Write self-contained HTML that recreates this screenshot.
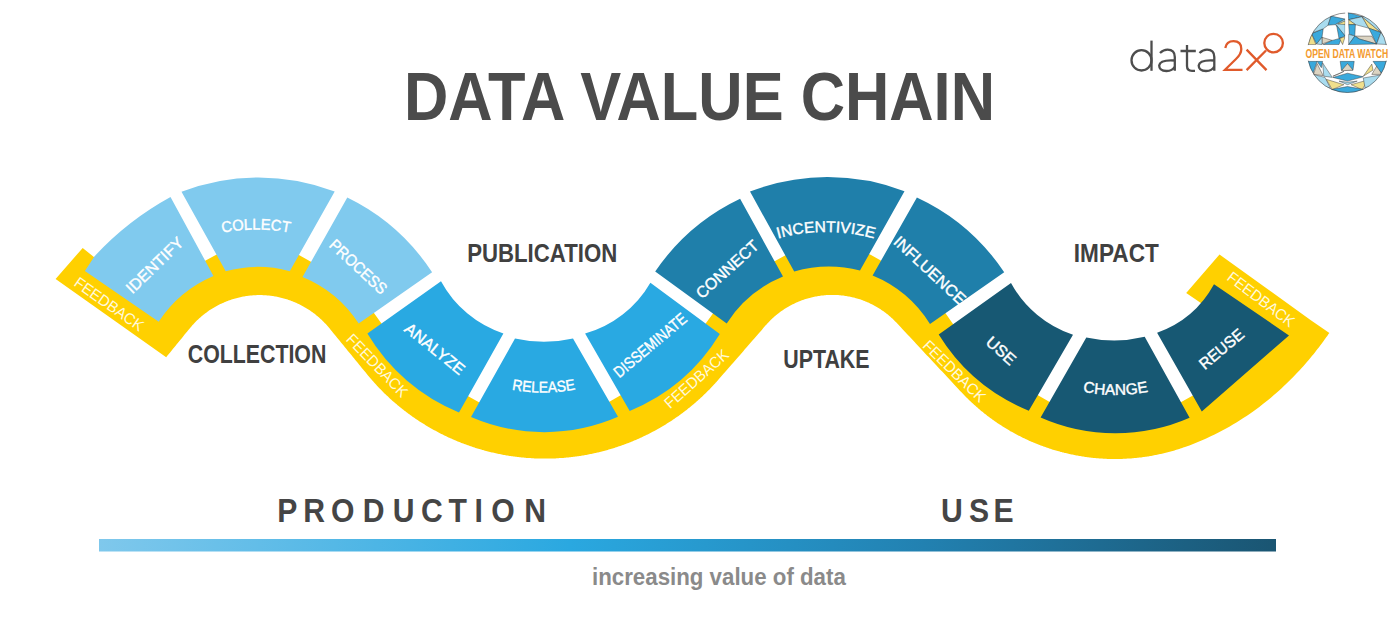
<!DOCTYPE html>
<html><head><meta charset="utf-8"><style>
html,body{margin:0;padding:0;background:#fff;width:1400px;height:642px;overflow:hidden}
svg{display:block}
text{font-family:"Liberation Sans",sans-serif}
.lab text{fill:#fff;stroke:#fff;stroke-width:0.4px}
.lab text.fb{fill:#fff9dc;stroke:none}
</style></head><body>
<svg width="1400" height="642" viewBox="0 0 1400 642">
<defs>
<linearGradient id="bar" x1="0" x2="1" y1="0" y2="0">
<stop offset="0" stop-color="#7fc8ec"/><stop offset="0.4" stop-color="#2aa8e0"/><stop offset="0.7" stop-color="#2281b1"/><stop offset="1" stop-color="#1a5572"/>
</linearGradient>
<clipPath id="odw"><circle cx="1347.3" cy="52.7" r="40"/></clipPath>
<path id="pCollect" d="M140.3,271.7 A180,180 0 0 1 371.7,271.7" fill="none"/>
<path id="pIncent" d="M698.7,284.7 A180,180 0 0 1 953.3,284.7" fill="none"/>
<path id="pRelease" d="M413.5,331.9 A170,170 0 0 0 673.9,331.9" fill="none"/>
<path id="pChange" d="M985.3,334.3 A170,170 0 0 0 1245.7,334.3" fill="none"/>
</defs>
<rect width="1400" height="642" fill="#fff"/>
<text x="404" y="120" font-size="68" font-weight="bold" fill="#4b4b4b" textLength="591" lengthAdjust="spacingAndGlyphs">DATA VALUE CHAIN</text>
<path d="M82.7,247.9 L55.6,279.0 L166.2,357.2 L167.5,355.6 L168.8,354.0 L170.1,352.4 L171.5,350.8 L172.8,349.1 L174.1,347.5 L175.4,345.9 L176.7,344.3 L178.0,342.7 L179.4,341.1 L180.7,339.5 L182.0,337.9 L183.3,336.3 L184.6,334.6 L185.9,333.0 L187.2,331.4 L188.6,329.8 L189.9,328.2 L190.5,327.4 L191.2,326.7 L191.8,325.9 L192.5,325.1 L193.2,324.4 L193.8,323.7 L194.5,322.9 L195.2,322.2 L195.9,321.5 L196.6,320.8 L197.4,320.1 L198.1,319.4 L198.8,318.7 L199.6,318.1 L200.3,317.4 L201.1,316.7 L201.8,316.1 L202.6,315.4 L203.4,314.8 L204.2,314.2 L205.0,313.6 L205.8,313.0 L206.6,312.4 L207.4,311.8 L208.2,311.2 L209.0,310.6 L209.9,310.1 L210.7,309.5 L211.6,309.0 L212.4,308.5 L213.3,307.9 L214.1,307.4 L215.0,306.9 L215.9,306.4 L216.7,306.0 L217.6,305.5 L218.5,305.0 L219.4,304.6 L220.3,304.1 L221.2,303.7 L222.1,303.3 L223.0,302.9 L224.0,302.5 L224.9,302.1 L225.8,301.7 L226.7,301.3 L227.7,301.0 L228.6,300.6 L229.6,300.3 L230.5,299.9 L231.5,299.6 L232.4,299.3 L233.4,299.0 L234.3,298.7 L235.3,298.4 L236.3,298.2 L237.2,297.9 L238.2,297.7 L239.2,297.4 L240.2,297.2 L241.1,297.0 L242.1,296.8 L243.1,296.6 L244.1,296.4 L245.1,296.3 L246.1,296.1 L247.1,296.0 L248.1,295.8 L249.0,295.7 L250.0,295.6 L251.0,295.5 L252.0,295.4 L253.0,295.3 L254.0,295.3 L255.0,295.2 L256.0,295.2 L257.0,295.1 L258.1,295.1 L259.1,295.1 L260.1,295.1 L261.1,295.1 L262.1,295.1 L263.1,295.2 L264.1,295.2 L265.1,295.3 L266.1,295.3 L267.1,295.4 L268.1,295.5 L269.1,295.6 L270.1,295.7 L271.1,295.8 L272.0,296.0 L273.0,296.1 L274.0,296.3 L275.0,296.4 L276.0,296.6 L277.0,296.8 L278.0,297.0 L279.0,297.2 L279.9,297.4 L280.9,297.7 L281.9,297.9 L282.9,298.2 L283.8,298.4 L284.8,298.7 L285.7,299.0 L286.7,299.3 L287.7,299.6 L288.6,299.9 L289.6,300.2 L290.5,300.6 L291.4,300.9 L292.4,301.3 L293.3,301.7 L294.2,302.0 L295.2,302.4 L296.1,302.8 L297.0,303.2 L297.9,303.7 L298.8,304.1 L299.7,304.5 L300.6,305.0 L301.5,305.4 L302.4,305.9 L303.3,306.4 L304.1,306.9 L305.0,307.4 L305.9,307.9 L306.7,308.4 L307.6,308.9 L308.4,309.5 L309.3,310.0 L310.1,310.6 L310.9,311.2 L311.7,311.7 L312.5,312.3 L313.4,312.9 L314.2,313.5 L315.0,314.1 L315.7,314.8 L316.5,315.4 L317.3,316.0 L318.1,316.7 L318.8,317.3 L319.6,318.0 L320.3,318.7 L321.0,319.3 L321.8,320.0 L322.5,320.7 L323.2,321.4 L323.9,322.1 L324.6,322.9 L325.3,323.6 L326.0,324.3 L326.7,325.1 L327.3,325.8 L328.0,326.6 L328.6,327.3 L329.3,328.1 L330.6,329.7 L331.9,331.3 L333.2,332.9 L334.5,334.5 L335.8,336.1 L337.1,337.7 L338.4,339.2 L339.7,340.8 L341.0,342.4 L342.3,344.0 L343.6,345.6 L344.9,347.2 L346.2,348.8 L347.5,350.4 L348.8,352.0 L350.1,353.6 L351.4,355.1 L352.7,356.7 L354.0,358.3 L355.3,359.9 L356.6,361.5 L357.9,363.1 L359.2,364.7 L360.5,366.3 L361.8,367.9 L363.1,369.4 L364.4,371.0 L365.7,372.6 L367.0,374.2 L367.6,375.0 L368.2,375.8 L368.9,376.5 L369.5,377.3 L370.2,378.0 L370.8,378.8 L371.5,379.6 L372.1,380.3 L372.8,381.1 L373.5,381.8 L374.1,382.6 L374.8,383.3 L375.5,384.0 L376.2,384.8 L376.8,385.5 L377.5,386.2 L378.2,387.0 L378.9,387.7 L379.6,388.4 L380.3,389.1 L381.0,389.8 L381.7,390.6 L382.4,391.3 L383.1,392.0 L383.8,392.7 L384.5,393.4 L385.2,394.1 L386.0,394.8 L386.7,395.5 L387.4,396.1 L388.2,396.8 L388.9,397.5 L389.6,398.2 L390.4,398.9 L391.1,399.5 L391.8,400.2 L392.6,400.9 L393.3,401.5 L394.1,402.2 L394.9,402.8 L395.6,403.5 L396.4,404.1 L397.1,404.8 L397.9,405.4 L398.7,406.1 L399.5,406.7 L400.2,407.3 L401.0,407.9 L401.8,408.6 L402.6,409.2 L403.4,409.8 L404.1,410.4 L404.9,411.0 L405.7,411.6 L406.5,412.2 L407.3,412.8 L408.1,413.4 L408.9,414.0 L409.7,414.6 L410.6,415.2 L411.4,415.8 L412.2,416.4 L413.0,417.0 L413.8,417.5 L414.6,418.1 L415.5,418.7 L416.3,419.2 L417.1,419.8 L418.0,420.3 L418.8,420.9 L419.6,421.4 L420.5,422.0 L421.3,422.5 L422.2,423.1 L423.0,423.6 L423.9,424.1 L424.7,424.6 L425.6,425.2 L426.4,425.7 L427.3,426.2 L428.1,426.7 L429.0,427.2 L429.9,427.7 L430.7,428.2 L431.6,428.7 L432.5,429.2 L433.3,429.7 L434.2,430.2 L435.1,430.6 L436.0,431.1 L436.9,431.6 L437.7,432.1 L438.6,432.5 L439.5,433.0 L440.4,433.4 L441.3,433.9 L442.2,434.3 L443.1,434.8 L444.0,435.2 L444.9,435.7 L445.8,436.1 L446.7,436.5 L447.6,437.0 L448.5,437.4 L449.4,437.8 L450.3,438.2 L451.2,438.6 L452.2,439.0 L453.1,439.4 L454.0,439.8 L454.9,440.2 L455.8,440.6 L456.7,441.0 L457.7,441.4 L458.6,441.8 L459.5,442.1 L460.5,442.5 L461.4,442.9 L462.3,443.2 L463.3,443.6 L464.2,443.9 L465.1,444.3 L466.1,444.6 L467.0,445.0 L467.9,445.3 L468.9,445.6 L469.8,446.0 L470.8,446.3 L471.7,446.6 L472.7,446.9 L473.6,447.2 L474.6,447.6 L475.5,447.9 L476.5,448.2 L477.4,448.5 L478.4,448.7 L479.4,449.0 L480.3,449.3 L481.3,449.6 L482.2,449.9 L483.2,450.1 L484.2,450.4 L485.1,450.7 L486.1,450.9 L487.1,451.2 L488.0,451.4 L489.0,451.7 L490.0,451.9 L490.9,452.2 L491.9,452.4 L492.9,452.6 L493.9,452.8 L494.8,453.1 L495.8,453.3 L496.8,453.5 L497.8,453.7 L498.8,453.9 L499.7,454.1 L500.7,454.3 L501.7,454.5 L502.7,454.7 L503.7,454.9 L504.7,455.0 L505.6,455.2 L506.6,455.4 L507.6,455.5 L508.6,455.7 L509.6,455.9 L510.6,456.0 L511.6,456.2 L512.6,456.3 L513.5,456.4 L514.5,456.6 L515.5,456.7 L516.5,456.8 L517.5,457.0 L518.5,457.1 L519.5,457.2 L520.5,457.3 L521.5,457.4 L522.5,457.5 L523.5,457.6 L524.5,457.7 L525.5,457.8 L526.5,457.9 L527.5,457.9 L528.5,458.0 L529.5,458.1 L530.5,458.1 L531.5,458.2 L532.5,458.3 L533.5,458.3 L534.5,458.4 L535.5,458.4 L536.5,458.4 L537.5,458.5 L538.5,458.5 L539.5,458.5 L540.5,458.6 L541.5,458.6 L542.5,458.6 L543.5,458.6 L544.5,458.6 L545.5,458.6 L546.5,458.6 L547.5,458.6 L548.5,458.6 L549.5,458.6 L550.5,458.5 L551.5,458.5 L552.5,458.5 L553.5,458.4 L554.5,458.4 L555.5,458.4 L556.5,458.3 L557.5,458.3 L558.5,458.2 L559.4,458.1 L560.4,458.1 L561.4,458.0 L562.4,457.9 L563.4,457.9 L564.4,457.8 L565.4,457.7 L566.4,457.6 L567.4,457.5 L568.4,457.4 L569.4,457.3 L570.4,457.2 L571.4,457.1 L572.4,457.0 L573.4,456.8 L574.4,456.7 L575.4,456.6 L576.4,456.5 L577.4,456.3 L578.3,456.2 L579.3,456.0 L580.3,455.9 L581.3,455.7 L582.3,455.6 L583.3,455.4 L584.3,455.2 L585.3,455.0 L586.2,454.9 L587.2,454.7 L588.2,454.5 L589.2,454.3 L590.2,454.1 L591.2,453.9 L592.1,453.7 L593.1,453.5 L594.1,453.3 L595.1,453.1 L596.0,452.9 L597.0,452.6 L598.0,452.4 L599.0,452.2 L599.9,451.9 L600.9,451.7 L601.9,451.5 L602.8,451.2 L603.8,451.0 L604.8,450.7 L605.7,450.4 L606.7,450.2 L607.7,449.9 L608.6,449.6 L609.6,449.3 L610.6,449.1 L611.5,448.8 L612.5,448.5 L613.4,448.2 L614.4,447.9 L615.3,447.6 L616.3,447.3 L617.2,447.0 L618.2,446.6 L619.1,446.3 L620.1,446.0 L621.0,445.7 L622.0,445.3 L622.9,445.0 L623.8,444.7 L624.8,444.3 L625.7,444.0 L626.7,443.6 L627.6,443.3 L628.5,442.9 L629.5,442.5 L630.4,442.2 L631.3,441.8 L632.2,441.4 L633.2,441.0 L634.1,440.6 L635.0,440.3 L635.9,439.9 L636.8,439.5 L637.8,439.1 L638.7,438.7 L639.6,438.2 L640.5,437.8 L641.4,437.4 L642.3,437.0 L643.2,436.6 L644.1,436.1 L645.0,435.7 L645.9,435.3 L646.8,434.8 L647.7,434.4 L648.6,433.9 L649.5,433.5 L650.4,433.0 L651.3,432.6 L652.2,432.1 L653.1,431.6 L653.9,431.2 L654.8,430.7 L655.7,430.2 L656.6,429.7 L657.4,429.2 L658.3,428.7 L659.2,428.3 L660.1,427.8 L660.9,427.3 L661.8,426.7 L662.6,426.2 L663.5,425.7 L664.4,425.2 L665.2,424.7 L666.1,424.2 L666.9,423.6 L667.8,423.1 L668.6,422.6 L669.4,422.0 L670.3,421.5 L671.1,420.9 L672.0,420.4 L672.8,419.8 L673.6,419.3 L674.5,418.7 L675.3,418.1 L676.1,417.6 L676.9,417.0 L677.7,416.4 L678.6,415.9 L679.4,415.3 L680.2,414.7 L681.0,414.1 L681.8,413.5 L682.6,412.9 L683.4,412.3 L684.2,411.7 L685.0,411.1 L685.8,410.5 L686.6,409.9 L687.4,409.3 L688.1,408.6 L688.9,408.0 L689.7,407.4 L690.5,406.7 L691.3,406.1 L692.0,405.5 L692.8,404.8 L693.6,404.2 L694.3,403.5 L695.1,402.9 L695.8,402.2 L696.6,401.6 L697.3,400.9 L698.1,400.3 L698.8,399.6 L699.6,398.9 L700.3,398.2 L701.0,397.6 L701.8,396.9 L702.5,396.2 L703.2,395.5 L704.0,394.8 L704.7,394.1 L705.4,393.4 L706.1,392.7 L706.8,392.0 L707.5,391.3 L708.2,390.6 L709.0,389.9 L709.7,389.2 L710.3,388.5 L711.0,387.8 L711.7,387.0 L712.4,386.3 L713.1,385.6 L713.8,384.8 L714.5,384.1 L715.1,383.4 L715.8,382.6 L716.5,381.9 L717.1,381.1 L717.8,380.4 L718.5,379.6 L719.8,378.1 L721.1,376.6 L722.4,375.1 L723.7,373.6 L725.1,372.1 L726.4,370.5 L727.7,369.0 L729.0,367.5 L730.3,366.0 L731.6,364.5 L733.0,363.0 L734.3,361.5 L735.6,359.9 L736.9,358.4 L738.2,356.9 L739.6,355.4 L740.9,353.9 L742.2,352.4 L743.5,350.9 L744.8,349.3 L746.2,347.8 L747.5,346.3 L748.8,344.8 L750.1,343.3 L751.4,341.8 L752.7,340.3 L754.1,338.7 L755.4,337.2 L756.7,335.7 L758.0,334.2 L759.3,332.7 L760.7,331.2 L762.0,329.7 L763.3,328.1 L764.6,326.6 L765.9,325.1 L766.6,324.4 L767.3,323.6 L767.9,322.9 L768.6,322.2 L769.3,321.4 L770.0,320.7 L770.7,320.0 L771.5,319.3 L772.2,318.6 L772.9,317.9 L773.7,317.3 L774.4,316.6 L775.2,316.0 L775.9,315.3 L776.7,314.7 L777.5,314.0 L778.3,313.4 L779.1,312.8 L779.9,312.2 L780.7,311.6 L781.5,311.0 L782.3,310.5 L783.2,309.9 L784.0,309.3 L784.8,308.8 L785.7,308.3 L786.5,307.7 L787.4,307.2 L788.3,306.7 L789.1,306.2 L790.0,305.7 L790.9,305.3 L791.8,304.8 L792.7,304.3 L793.6,303.9 L794.5,303.4 L795.4,303.0 L796.3,302.6 L797.2,302.2 L798.1,301.8 L799.0,301.4 L800.0,301.1 L800.9,300.7 L801.8,300.3 L802.8,300.0 L803.7,299.7 L804.7,299.3 L805.6,299.0 L806.6,298.7 L807.6,298.5 L808.5,298.2 L809.5,297.9 L810.5,297.7 L811.4,297.4 L812.4,297.2 L813.4,297.0 L814.4,296.7 L815.3,296.5 L816.3,296.4 L817.3,296.2 L818.3,296.0 L819.3,295.9 L820.3,295.7 L821.3,295.6 L822.3,295.5 L823.3,295.4 L824.3,295.3 L825.3,295.2 L826.3,295.1 L827.3,295.0 L828.3,295.0 L829.3,295.0 L830.3,294.9 L831.3,294.9 L832.3,294.9 L833.3,294.9 L834.3,294.9 L835.3,295.0 L836.3,295.0 L837.3,295.0 L838.3,295.1 L839.3,295.2 L840.3,295.3 L841.3,295.4 L842.3,295.5 L843.3,295.6 L844.3,295.7 L845.2,295.9 L846.2,296.0 L847.2,296.2 L848.2,296.4 L849.2,296.5 L850.2,296.7 L851.2,296.9 L852.1,297.2 L853.1,297.4 L854.1,297.6 L855.1,297.9 L856.0,298.2 L857.0,298.4 L857.9,298.7 L858.9,299.0 L859.9,299.3 L860.8,299.6 L861.8,300.0 L862.7,300.3 L863.6,300.7 L864.6,301.0 L865.5,301.4 L866.4,301.8 L867.3,302.2 L868.3,302.6 L869.2,303.0 L870.1,303.4 L871.0,303.9 L871.9,304.3 L872.8,304.8 L873.7,305.2 L874.5,305.7 L875.4,306.2 L876.3,306.7 L877.2,307.2 L878.0,307.7 L878.9,308.2 L879.7,308.8 L880.6,309.3 L881.4,309.9 L882.2,310.4 L883.0,311.0 L883.9,311.6 L884.7,312.2 L885.5,312.8 L886.3,313.4 L887.1,314.0 L887.8,314.6 L888.6,315.3 L889.4,315.9 L890.1,316.6 L890.9,317.2 L891.6,317.9 L892.4,318.6 L893.1,319.3 L893.8,320.0 L894.5,320.7 L895.2,321.4 L895.9,322.1 L896.6,322.8 L898.0,324.3 L899.4,325.8 L900.8,327.3 L902.1,328.7 L903.5,330.2 L904.9,331.7 L906.3,333.2 L907.7,334.7 L909.0,336.1 L910.4,337.6 L911.8,339.1 L913.2,340.6 L914.6,342.1 L915.9,343.5 L917.3,345.0 L918.7,346.5 L920.1,348.0 L921.5,349.5 L922.9,350.9 L924.2,352.4 L925.6,353.9 L927.0,355.4 L928.4,356.8 L929.8,358.3 L931.1,359.8 L932.5,361.3 L933.9,362.8 L935.3,364.2 L936.7,365.7 L938.0,367.2 L939.4,368.7 L940.8,370.2 L942.2,371.6 L943.6,373.1 L945.0,374.6 L946.3,376.1 L947.7,377.6 L949.1,379.0 L950.5,380.5 L951.9,382.0 L953.2,383.5 L954.6,384.9 L956.0,386.4 L957.4,387.9 L958.8,389.4 L960.1,390.9 L961.5,392.3 L962.2,393.1 L962.9,393.8 L963.6,394.5 L964.3,395.2 L965.0,396.0 L965.7,396.7 L966.4,397.4 L967.1,398.1 L967.8,398.8 L968.5,399.5 L969.3,400.2 L970.0,400.9 L970.7,401.6 L971.4,402.3 L972.2,402.9 L972.9,403.6 L973.6,404.3 L974.4,405.0 L975.1,405.6 L975.9,406.3 L976.6,407.0 L977.4,407.6 L978.1,408.3 L978.9,408.9 L979.7,409.6 L980.4,410.2 L981.2,410.9 L982.0,411.5 L982.8,412.1 L983.5,412.8 L984.3,413.4 L985.1,414.0 L985.9,414.6 L986.7,415.2 L987.5,415.9 L988.3,416.5 L989.1,417.1 L989.9,417.7 L990.7,418.3 L991.5,418.8 L992.3,419.4 L993.1,420.0 L993.9,420.6 L994.8,421.2 L995.6,421.7 L996.4,422.3 L997.2,422.9 L998.1,423.4 L998.9,424.0 L999.7,424.5 L1000.6,425.1 L1001.4,425.6 L1002.3,426.2 L1003.1,426.7 L1004.0,427.2 L1004.8,427.8 L1005.7,428.3 L1006.5,428.8 L1007.4,429.3 L1008.2,429.8 L1009.1,430.3 L1010.0,430.9 L1010.8,431.4 L1011.7,431.8 L1012.6,432.3 L1013.5,432.8 L1014.3,433.3 L1015.2,433.8 L1016.1,434.3 L1017.0,434.7 L1017.9,435.2 L1018.8,435.7 L1019.7,436.1 L1020.6,436.6 L1021.5,437.0 L1022.3,437.5 L1023.2,437.9 L1024.2,438.3 L1025.1,438.8 L1026.0,439.2 L1026.9,439.6 L1027.8,440.0 L1028.7,440.4 L1029.6,440.9 L1030.5,441.3 L1031.4,441.7 L1032.4,442.1 L1033.3,442.4 L1034.2,442.8 L1035.1,443.2 L1036.1,443.6 L1037.0,444.0 L1037.9,444.3 L1038.9,444.7 L1039.8,445.1 L1040.7,445.4 L1041.7,445.8 L1042.6,446.1 L1043.5,446.5 L1044.5,446.8 L1045.4,447.1 L1046.4,447.5 L1047.3,447.8 L1048.3,448.1 L1049.2,448.4 L1050.2,448.7 L1051.1,449.1 L1052.1,449.4 L1053.0,449.7 L1054.0,449.9 L1055.0,450.2 L1055.9,450.5 L1056.9,450.8 L1057.8,451.1 L1058.8,451.3 L1059.8,451.6 L1060.7,451.9 L1061.7,452.1 L1062.7,452.4 L1063.7,452.6 L1064.6,452.9 L1065.6,453.1 L1066.6,453.3 L1067.6,453.6 L1068.5,453.8 L1069.5,454.0 L1070.5,454.2 L1071.5,454.4 L1072.4,454.6 L1073.4,454.8 L1074.4,455.0 L1075.4,455.2 L1076.4,455.4 L1077.4,455.6 L1078.3,455.8 L1079.3,455.9 L1080.3,456.1 L1081.3,456.3 L1082.3,456.4 L1083.3,456.6 L1084.3,456.7 L1085.3,456.9 L1086.3,457.0 L1087.3,457.2 L1088.2,457.3 L1089.2,457.4 L1090.2,457.5 L1091.2,457.7 L1092.2,457.8 L1093.2,457.9 L1094.2,458.0 L1095.2,458.1 L1096.2,458.2 L1097.2,458.2 L1098.2,458.3 L1099.2,458.4 L1100.2,458.5 L1101.2,458.5 L1102.2,458.6 L1103.2,458.7 L1104.2,458.7 L1105.2,458.8 L1106.2,458.8 L1107.2,458.9 L1108.2,458.9 L1109.2,458.9 L1110.2,458.9 L1111.2,459.0 L1112.2,459.0 L1113.2,459.0 L1114.2,459.0 L1115.2,459.0 L1116.2,459.0 L1117.2,459.0 L1118.2,459.0 L1119.2,459.0 L1120.2,458.9 L1121.2,458.9 L1122.2,458.9 L1123.2,458.8 L1124.2,458.8 L1125.2,458.7 L1126.2,458.7 L1127.2,458.6 L1128.2,458.6 L1129.2,458.5 L1130.2,458.4 L1131.2,458.4 L1132.2,458.3 L1133.2,458.2 L1134.2,458.1 L1135.2,458.0 L1136.2,457.9 L1137.2,457.8 L1138.2,457.7 L1139.2,457.6 L1140.2,457.5 L1141.2,457.4 L1142.2,457.2 L1143.2,457.1 L1144.2,457.0 L1145.2,456.8 L1146.2,456.7 L1147.2,456.5 L1148.2,456.4 L1149.1,456.2 L1150.1,456.0 L1151.1,455.9 L1152.1,455.7 L1153.1,455.5 L1154.1,455.3 L1155.1,455.1 L1156.0,455.0 L1157.0,454.8 L1158.0,454.5 L1159.0,454.3 L1160.0,454.1 L1160.9,453.9 L1161.9,453.7 L1162.9,453.5 L1163.9,453.2 L1164.8,453.0 L1165.8,452.8 L1166.8,452.5 L1167.8,452.3 L1168.7,452.0 L1169.7,451.8 L1170.7,451.5 L1171.6,451.2 L1172.6,450.9 L1173.6,450.7 L1174.5,450.4 L1175.5,450.1 L1176.4,449.8 L1177.4,449.5 L1178.3,449.2 L1179.3,448.9 L1180.3,448.6 L1181.2,448.3 L1182.2,448.0 L1183.1,447.6 L1184.1,447.3 L1185.0,447.0 L1189.4,445.4 L1193.7,443.8 L1197.9,442.0 L1202.1,440.3 L1206.2,438.5 L1210.2,436.6 L1214.1,434.7 L1218.0,432.8 L1221.8,430.8 L1225.6,428.8 L1229.3,426.7 L1232.9,424.6 L1236.4,422.5 L1239.9,420.3 L1243.3,418.1 L1246.6,415.9 L1249.9,413.7 L1253.1,411.4 L1256.2,409.2 L1259.3,406.9 L1262.3,404.6 L1265.2,402.3 L1268.1,400.0 L1270.9,397.7 L1273.6,395.3 L1276.3,393.0 L1278.9,390.7 L1281.4,388.4 L1283.9,386.1 L1286.3,383.8 L1288.6,381.5 L1290.9,379.3 L1293.2,377.0 L1295.3,374.8 L1297.4,372.6 L1299.4,370.4 L1301.4,368.3 L1303.3,366.2 L1305.2,364.1 L1306.9,362.0 L1308.7,360.0 L1310.3,358.0 L1311.9,356.1 L1313.5,354.2 L1314.9,352.4 L1316.3,350.6 L1317.7,348.8 L1319.0,347.2 L1320.2,345.5 L1321.4,344.0 L1322.5,342.5 L1323.6,341.0 L1324.6,339.6 L1325.5,338.3 L1326.4,337.1 L1327.3,335.9 L1328.0,334.8 L1328.7,333.8 L1329.4,332.9 L1310.5,320.0 L1219.5,254.4 L1186.2,293.1 L1196.5,300.0 L1240.0,330.0 L1194.7,394.5 L1179.0,403.3 L1051.4,402.9 L1035.8,393.9 L954.4,326.0 L944.1,311.3 L883.0,261.7 L867.3,252.9 L787.7,254.1 L771.9,262.8 L714.8,311.1 L704.2,325.6 L622.8,393.9 L607.2,402.9 L481.2,403.6 L465.5,394.7 L382.9,325.6 L372.5,310.9 L312.7,262.8 L297.0,253.9 L218.7,253.4 L202.9,262.1 L150.0,282.0 L100.0,262.0Z" fill="#ffd000"/>
<path d="M84.9,271 L94.5,256.3 A300,300 0 0 1 170.5,197 L213.5,276 A123,123 0 0 0 158.7,321.7 Z" fill="#80caee"/>
<path d="M181.5,191.8 A214,214 0 0 1 334.7,191.5 L289.8,271.2 A123,123 0 0 0 225.7,271.2 Z" fill="#80caee"/>
<path d="M347.3,197.5 A212,212 0 0 1 432.1,272.3 L358.7,323.6 A122,122 0 0 0 302.5,277 Z" fill="#80caee"/>
<path d="M367.4,333.6 L441,281.2 A110,110 0 0 0 503.4,333.4 L459,412.4 A190,190 0 0 1 367.4,333.6 Z" fill="#29a9e2"/>
<path d="M515,338.5 A130,130 0 0 0 573,338.5 L618,416.8 A185,185 0 0 1 471,417 Z" fill="#29a9e2"/>
<path d="M585.1,333.6 A110,110 0 0 0 650.4,282.8 L719.8,334 A190,190 0 0 1 629.7,410.9 Z" fill="#29a9e2"/>
<path d="M655.2,271.6 A212,212 0 0 1 740.1,198.7 L783,276.6 A122,122 0 0 0 726.7,323.4 Z" fill="#1f7faa"/>
<path d="M750,191.6 A214,214 0 0 1 904.5,191.2 L860,270.5 A123,123 0 0 0 794.2,271.5 Z" fill="#1f7faa"/>
<path d="M916.9,197.4 A212,212 0 0 1 1004.2,272.3 L930,324 A122,122 0 0 0 872.6,275.5 Z" fill="#1f7faa"/>
<path d="M938.7,334.6 L1011,283 A110,110 0 0 0 1073,334.8 L1028.8,410.7 A190,190 0 0 1 938.7,334.6 Z" fill="#175873"/>
<path d="M1086.3,337.4 A130,130 0 0 0 1144.7,336.8 L1189.6,417.7 A185,185 0 0 1 1040.6,417.4 Z" fill="#175873"/>
<path d="M1157.1,332.8 A105,105 0 0 0 1214,284.3 L1289,335.4 L1201.8,411.6 Z" fill="#175873"/>
<g class="lab">
<text transform="translate(154.5,265) rotate(-44)" y="5.8" font-size="16" text-anchor="middle" textLength="73" lengthAdjust="spacingAndGlyphs">IDENTIFY</text>
<text transform="translate(358.5,266.5) rotate(42.8)" y="5.8" font-size="16" text-anchor="middle" textLength="72" lengthAdjust="spacingAndGlyphs">PROCESS</text>
<text transform="translate(435,348.5) rotate(38.9)" y="5.8" font-size="16" text-anchor="middle" textLength="72" lengthAdjust="spacingAndGlyphs">ANALYZE</text>
<text transform="translate(650,345) rotate(-40)" y="5.8" font-size="16" text-anchor="middle" textLength="90" lengthAdjust="spacingAndGlyphs">DISSEMINATE</text>
<text transform="translate(727,269) rotate(-42)" y="5.8" font-size="16" text-anchor="middle" textLength="78" lengthAdjust="spacingAndGlyphs">CONNECT</text>
<text transform="translate(930,270) rotate(43)" y="5.8" font-size="16" text-anchor="middle" textLength="92" lengthAdjust="spacingAndGlyphs">INFLUENCE</text>
<text transform="translate(1001.3,350.4) rotate(41.8)" y="5.8" font-size="16" text-anchor="middle" textLength="34" lengthAdjust="spacingAndGlyphs">USE</text>
<text transform="translate(1221.3,348.7) rotate(-40)" y="5.8" font-size="16" text-anchor="middle" textLength="53" lengthAdjust="spacingAndGlyphs">REUSE</text>
<text class="fb" transform="translate(109.2,303.9) rotate(35.1)" y="5.5" font-size="15.5" text-anchor="middle" textLength="81" lengthAdjust="spacingAndGlyphs">FEEDBACK</text>
<text class="fb" transform="translate(377.4,365.4) rotate(46)" y="5.5" font-size="15.5" text-anchor="middle" textLength="81" lengthAdjust="spacingAndGlyphs">FEEDBACK</text>
<text class="fb" transform="translate(696.4,378.6) rotate(-41.5)" y="5.5" font-size="15.5" text-anchor="middle" textLength="80" lengthAdjust="spacingAndGlyphs">FEEDBACK</text>
<text class="fb" transform="translate(954.5,371) rotate(44.3)" y="5.5" font-size="15.5" text-anchor="middle" textLength="81" lengthAdjust="spacingAndGlyphs">FEEDBACK</text>
<text class="fb" transform="translate(1261.2,299.1) rotate(37.2)" y="5.5" font-size="15.5" text-anchor="middle" textLength="80" lengthAdjust="spacingAndGlyphs">FEEDBACK</text>
<text font-size="15.5"><textPath href="#pCollect" startOffset="50%" text-anchor="middle" textLength="68" lengthAdjust="spacingAndGlyphs">COLLECT</textPath></text>
<text font-size="15.5"><textPath href="#pIncent" startOffset="50%" text-anchor="middle" textLength="97" lengthAdjust="spacingAndGlyphs">INCENTIVIZE</textPath></text>
<text font-size="15.5"><textPath href="#pRelease" startOffset="50%" text-anchor="middle" textLength="64" lengthAdjust="spacingAndGlyphs">RELEASE</textPath></text>
<text font-size="15.5"><textPath href="#pChange" startOffset="50%" text-anchor="middle" textLength="66" lengthAdjust="spacingAndGlyphs">CHANGE</textPath></text>
</g>
<g fill="#404040" font-weight="bold" font-size="25.5">
<text x="187.8" y="363.3" textLength="138.5" lengthAdjust="spacingAndGlyphs">COLLECTION</text>
<text x="467.2" y="262" textLength="150" lengthAdjust="spacingAndGlyphs">PUBLICATION</text>
<text x="783.2" y="368.2" textLength="86.4" lengthAdjust="spacingAndGlyphs">UPTAKE</text>
<text x="1073.8" y="261.8" textLength="85" lengthAdjust="spacingAndGlyphs">IMPACT</text>
</g>
<g fill="#454545" font-weight="bold" font-size="33.5" text-anchor="middle">
<text transform="translate(287.2,522) scale(0.9,1)">P</text>
<text transform="translate(314.2,522) scale(0.9,1)">R</text>
<text transform="translate(342.6,522) scale(0.9,1)">O</text>
<text transform="translate(373.7,522) scale(0.9,1)">D</text>
<text transform="translate(403.7,522) scale(0.9,1)">U</text>
<text transform="translate(432.0,522) scale(0.9,1)">C</text>
<text transform="translate(457.7,522) scale(0.9,1)">T</text>
<text transform="translate(478.6,522) scale(0.9,1)">I</text>
<text transform="translate(503.0,522) scale(0.9,1)">O</text>
<text transform="translate(535.1,522) scale(0.9,1)">N</text>
<text transform="translate(951.8,522) scale(0.9,1)">U</text>
<text transform="translate(979.0,522) scale(0.9,1)">S</text>
<text transform="translate(1003.6,522) scale(0.9,1)">E</text>
</g>
<rect x="99" y="539" width="1177" height="12.5" fill="url(#bar)"/>
<text x="592" y="585" font-size="23" font-weight="bold" fill="#8a8a8a" textLength="253.8" lengthAdjust="spacingAndGlyphs">increasing value of data</text>
<g fill="none" stroke-width="2.3" stroke-linecap="butt">
<g stroke="#4d4d4d">
<ellipse cx="1141.5" cy="60.3" rx="10" ry="10.2"/><path d="M1151.5,40.6 L1151.5,70.8"/>
<path d="M1160,53 Q1163.5,49.6 1167.5,49.6 Q1174.8,49.6 1174.8,57 L1174.8,70.8 M1174.8,60.5 Q1160,59.5 1159.2,65.5 Q1159.2,71 1166.5,71 Q1172.5,71 1174.8,66.5"/>
<path d="M1187,45 L1187,66 Q1187,70.8 1192,70.8 L1195,70.8 M1180.5,51 L1195.8,51"/>
<path d="M1199.5,53 Q1203,49.6 1207,49.6 Q1214.3,49.6 1214.3,57 L1214.3,70.8 M1214.3,60.5 Q1199.5,59.5 1198.7,65.5 Q1198.7,71 1206,71 Q1212,71 1214.3,66.5"/>
</g>
<g stroke="#e05a2b">
<path d="M1225.3,48 Q1226.5,41.2 1233.5,41.2 Q1241.3,41.2 1241.3,49 Q1241.3,54 1236,59 L1225,69.8 L1242.5,69.8"/>
<path d="M1246.6,49.6 L1266.5,70.1 M1246.6,70.1 L1266,50.5"/>
<circle cx="1273.6" cy="43.1" r="9.3"/>
</g>
</g>
<g clip-path="url(#odw)">
<circle cx="1347.3" cy="52.7" r="40" fill="#ffffff"/>
<g stroke="#333" stroke-width="0.45">
<polygon points="1307.4,44.6 1311.7,33.7 1315.9,44.6" fill="#f0df8c"/>
<polygon points="1312.9,33.1 1323.2,28.8 1322.0,37.3 1316.5,44.0 1311.7,33.7" fill="#3aa9dc"/>
<polygon points="1311.7,33.1 1323.2,17.3 1331.1,16.1 1328.1,25.2 1323.2,28.8" fill="#a9dcef"/>
<polygon points="1328.1,25.2 1331.1,16.1 1345.1,19.1 1335.4,24.6" fill="#3aa9dc"/>
<polygon points="1335.4,24.6 1345.1,19.1 1345.1,36.1" fill="#a9dcef"/>
<polygon points="1336.6,25.2 1345.1,36.1 1339.0,38.5" fill="#3aa9dc"/>
<polygon points="1337.8,24.0 1345.1,20.9 1345.1,24.6" fill="#f0df8c"/>
<polygon points="1322.0,37.3 1332.3,40.4 1322.0,44.0" fill="#dcd4c2"/>
<polygon points="1316.5,44.0 1322.0,37.3 1322.0,44.6" fill="#a9dcef"/>
<polygon points="1332.3,40.4 1341.4,37.9 1339.0,44.6 1323.2,44.6" fill="#3aa9dc"/>
<polygon points="1339.6,38.5 1345.1,36.7 1342.6,44.6" fill="#f0df8c"/>
<polygon points="1348.1,12.4 1362.1,16.7 1348.7,19.7" fill="#3aa9dc"/>
<polygon points="1348.7,19.7 1362.1,16.7 1368.8,28.2 1355.4,24.6" fill="#a9dcef"/>
<polygon points="1362.1,16.7 1380.9,32.5 1368.8,28.2" fill="#f0df8c"/>
<polygon points="1348.7,19.7 1355.4,24.6 1348.7,24.6" fill="#f0df8c"/>
<polygon points="1348.7,24.6 1355.4,24.6 1354.8,36.1 1349.3,34.3" fill="#3aa9dc"/>
<polygon points="1348.7,34.3 1354.8,36.1 1348.7,44.6" fill="#a9dcef"/>
<polygon points="1355.4,36.1 1371.8,36.1 1376.6,44.0 1359.6,39.1" fill="#dcd4c2"/>
<polygon points="1348.7,44.6 1354.8,36.1 1359.6,39.1 1376.6,44.0" fill="#3aa9dc"/>
<polygon points="1368.8,28.2 1380.9,32.5 1376.6,44.0" fill="#3aa9dc"/>
<polygon points="1380.9,32.5 1390.0,44.6 1376.6,44.0" fill="#a9dcef"/>
<polygon points="1362.1,16.7 1371.8,16.1 1380.9,32.5" fill="#a9dcef"/>
<polygon points="1305.0,61.3 1317.1,61.3 1312.9,73.8" fill="#3aa9dc"/>
<polygon points="1317.1,63.5 1323.2,75.6 1313.5,74.4" fill="#dcd4c2"/>
<polygon points="1317.1,61.3 1322.6,61.3 1321.4,67.7" fill="#3aa9dc"/>
<polygon points="1322.6,62.9 1332.3,77.4 1323.8,76.2" fill="#a9dcef"/>
<polygon points="1312.9,74.4 1325.0,77.4 1330.5,88.4 1320.2,85.9 1311.1,78.0" fill="#a9dcef"/>
<polygon points="1326.3,79.3 1343.9,84.7 1332.3,89.6" fill="#f0df8c"/>
<polygon points="1340.2,61.3 1354.2,61.3 1353.0,70.1 1341.4,70.1" fill="#3aa9dc"/>
<polygon points="1341.4,70.8 1347.5,63.5 1353.0,70.1" fill="#dcd4c2"/>
<polygon points="1332.9,76.2 1343.9,71.4 1339.0,73.8" fill="#f0df8c"/>
<polygon points="1332.9,77.4 1347.5,73.2 1363.3,76.8 1347.5,81.1" fill="#3aa9dc"/>
<polygon points="1339.0,81.1 1347.5,84.7 1357.2,81.1 1347.5,82.3" fill="#a9dcef"/>
<polygon points="1351.1,84.7 1368.1,79.9 1362.1,89.6" fill="#f0df8c"/>
<polygon points="1331.1,89.6 1347.5,86.5 1364.5,89.6 1347.5,94.4" fill="#3aa9dc"/>
<polygon points="1363.3,78.0 1380.3,75.0 1383.9,78.0 1374.8,84.7 1365.1,88.4" fill="#a9dcef"/>
<polygon points="1371.8,74.4 1377.9,64.1 1381.5,74.4" fill="#dcd4c2"/>
<polygon points="1373.0,61.3 1390.0,61.3 1381.5,73.2" fill="#3aa9dc"/>
<polygon points="1363.3,76.2 1371.8,64.1 1373.0,70.1" fill="#f0df8c"/>
</g>
</g>
<circle cx="1347.3" cy="52.7" r="39.8" fill="none" stroke="#444" stroke-width="0.6"/>
<rect x="1300" y="45.1" width="96" height="15.5" fill="#fff"/>
<rect x="1345.2" y="12" width="2.6" height="34" fill="#fff"/>
<text x="1305.6" y="57.8" font-size="12.4" font-weight="bold" fill="#f39a2e" textLength="82.7" lengthAdjust="spacingAndGlyphs">OPEN DATA WATCH</text>
</svg>
</body></html>
